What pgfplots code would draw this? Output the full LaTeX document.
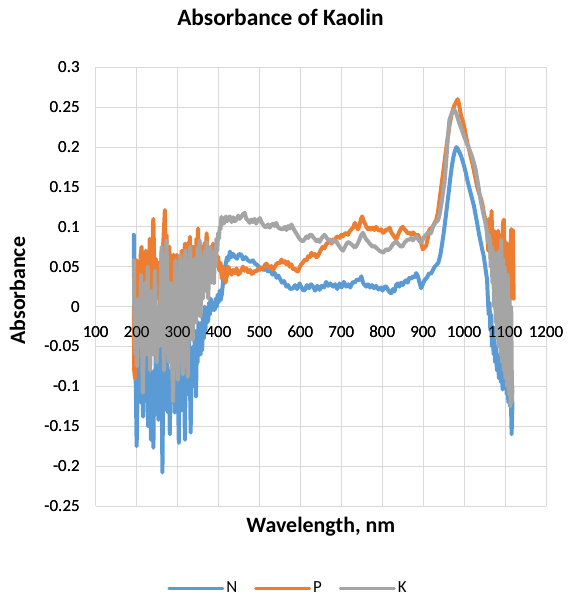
\documentclass[border=0pt]{standalone}
\usepackage{pgfplots}
\pgfplotsset{compat=1.18}
\usepackage{fontspec}
\setmainfont{Carlito}
\definecolor{cN}{HTML}{5B9BD5}
\definecolor{cP}{HTML}{ED7D31}
\definecolor{cK}{HTML}{A5A5A5}
\definecolor{gridgray}{HTML}{D9D9D9}
\pgfplotsset{
  kaolinframe/.style={
    at={(0,0)}, anchor=south west,
    scale only axis, width=450.3bp, height=438.7bp,
    xmin=100, xmax=1200, ymin=-0.25, ymax=0.3,
    axis x line=middle, axis y line=left,
    hide obscured x ticks=false, hide obscured y ticks=false,
    every inner x axis line/.append style={-},
    every outer y axis line/.append style={-},
    xtick={100,200,300,400,500,600,700,800,900,1000,1100,1200},
    xticklabels={100,200,300,400,500,600,700,800,900,1000,1100,1200},
    ytick={-0.25,-0.2,-0.15,-0.1,-0.05,0,0.05,0.1,0.15,0.2,0.25,0.3},
    yticklabels={-0.25,-0.2,-0.15,-0.1,-0.05,0,0.05,0.1,0.15,0.2,0.25,0.3},
    major tick length=0pt,
    ticklabel style={font=\fontsize{17}{20}\selectfont, text=black},
    xticklabel style={anchor=north, yshift=-16bp},
    yticklabel style={anchor=east, xshift=-12.5bp},
    /pgf/number format/assume math mode=true,
  },
}
\begin{document}
\begin{tikzpicture}
\useasboundingbox (-95.7bp,-93bp) rectangle (472.3bp,506bp);
\begin{axis}[
  kaolinframe,
  axis line style={-, draw=gridgray, line width=1bp},
  grid=major, major grid style={draw=gridgray, line width=1bp},
  every axis title/.style={at={(axis description cs:0.4104,1.0948)}, anchor=base, font=\bfseries\fontsize{23.5}{28}\selectfont},
  title={Absorbance of Kaolin},
  every axis x label/.style={at={(axis description cs:0.5,-0.0593)}, anchor=base, font=\bfseries\fontsize{22}{26}\selectfont},
  xlabel={Wavelength, nm},
  every axis y label/.style={at={(axis description cs:-0.157,0.4906)}, anchor=base, rotate=90, font=\bfseries\fontsize{22}{26}\selectfont},
  ylabel={Absorbance},
  legend columns=3,
  legend style={at={(axis description cs:0.427,-0.187)}, anchor=center, draw=none, fill=none,
    font=\fontsize{17}{20}\selectfont,
    /tikz/every even column/.append style={column sep=15bp}},
  legend image code/.code={\draw[#1, line width=3bp] (0bp,0bp) -- (54bp,0bp);},
  every axis plot/.append style={line width=4bp, line join=round, line cap=round},
]
\addplot[cN] coordinates {
(193,0.090) (194,0.020) (196,-0.060) (198,-0.100) (200,-0.175) (202,-0.120) (204,-0.070) (206,-0.100) (208,-0.050) (210,-0.120)
(212,-0.080) (214,-0.110) (216,-0.138) (218,-0.060) (220,-0.090) (222,-0.040) (224,-0.110) (226,-0.080) (228,-0.150) (230,-0.100)
(232,-0.060) (235,-0.167) (237,-0.090) (239,-0.120) (241,-0.177) (243,-0.080) (245,-0.110) (247,-0.050) (249,-0.130) (251,-0.090)
(253,-0.142) (255,-0.070) (257,-0.110) (259,-0.040) (261,-0.100) (263,-0.208) (265,-0.090) (267,-0.130) (269,-0.060) (271,-0.100)
(273,-0.130) (275,-0.070) (277,-0.133) (279,-0.090) (281,-0.160) (283,-0.080) (285,-0.110) (287,-0.060) (289,-0.120) (291,-0.070)
(293,-0.133) (295,-0.080) (297,-0.100) (299,-0.050) (301,-0.110) (303,-0.171) (305,-0.080) (307,-0.100) (309,-0.130) (311,-0.060)
(313,-0.100) (315,-0.070) (318,-0.167) (320,-0.060) (322,-0.100) (324,-0.070) (326,-0.110) (328,-0.040) (330,-0.080) (332,-0.158)
(334,-0.060) (336,-0.090) (338,-0.050) (340,-0.100) (342,-0.030) (345,-0.113) (347,-0.050) (349,-0.070) (351,-0.020) (353,-0.050)
(356,-0.060) (358,-0.020) (360,-0.055) (362,-0.010) (364,-0.040) (366,0.000) (368,-0.030) (370,-0.005) (372,-0.020) (375,-0.017)
(377,0.005) (379,-0.010) (381,0.010) (383,-0.005) (386,0.005) (388,-0.004) (391,-0.004) (393,0.010) (396,0.000) (398,0.015)
(400,0.005) (403,0.020) (405,0.008) (408,0.015) (411,0.030) (413,0.040) (415,0.042) (418,0.055) (421,0.062) (424,0.058)
(428,0.069) (432,0.062) (436,0.066) (440,0.0625) (445,0.060) (450,0.066) (456,0.065) (460,0.059) (466,0.062) (472,0.058)
(478,0.056) (484,0.058) (489,0.054) (495,0.052) (500,0.049) (505,0.048) (510,0.046) (516,0.047) (521,0.044) (527,0.045)
(532,0.040) (537,0.0425) (542,0.036) (546,0.039) (550,0.035) (555,0.030) (560,0.032) (566,0.025) (570,0.027) (575,0.022)
(582,0.023) (587,0.027) (592,0.022) (598,0.029) (603,0.024) (607,0.020) (611,0.021) (616,0.027) (621,0.023) (626,0.028)
(631,0.025) (636,0.020) (641,0.026) (647,0.021) (652,0.026) (658,0.024) (663,0.031) (668,0.026) (673,0.029) (680,0.025)
(685,0.028) (690,0.022) (696,0.029) (701,0.024) (706,0.031) (712,0.025) (717,0.028) (722,0.024) (728,0.031) (733,0.030)
(738,0.034) (744,0.033) (749,0.038) (753,0.030) (757,0.027) (761,0.025) (765,0.028) (770,0.024) (775,0.027) (780,0.023)
(785,0.026) (790,0.022) (793,0.021) (797,0.024) (801,0.020) (806,0.025) (810,0.025) (814,0.021) (818,0.018) (822,0.0167)
(826,0.022) (830,0.019) (834,0.027) (838,0.029) (842,0.025) (846,0.030) (850,0.027) (854,0.031) (858,0.033) (862,0.030)
(866,0.036) (871,0.035) (875,0.038) (879,0.037) (883,0.042) (887,0.038) (891,0.030) (895,0.023) (899,0.028) (903,0.033)
(907,0.035) (911,0.038) (915,0.042) (919,0.041) (923,0.045) (928,0.050) (932,0.052) (937,0.055) (942,0.065) (946,0.078)
(950,0.092) (954,0.108) (958,0.125) (962,0.142) (966,0.160) (970,0.176) (974,0.188) (978,0.196) (981,0.200) (984,0.198)
(987,0.195) (990,0.192) (993,0.188) (996,0.183) (1000,0.176) (1004,0.168) (1008,0.158) (1012,0.150) (1016,0.142) (1020,0.134)
(1024,0.126) (1028,0.115) (1032,0.104) (1036,0.092) (1040,0.082) (1044,0.072) (1048,0.063) (1052,0.048) (1056,0.034) (1058,0.010)
(1060,-0.010) (1062,0.005) (1064,-0.030) (1066,-0.010) (1068,-0.050) (1070,-0.025) (1072,-0.060) (1074,-0.040) (1076,-0.070) (1078,-0.050)
(1080,-0.080) (1082,-0.060) (1085,-0.090) (1087,-0.070) (1090,-0.095) (1092,-0.080) (1094,-0.104) (1096,-0.090) (1098,-0.060) (1100,-0.100)
(1102,-0.080) (1104,-0.110) (1106,-0.090) (1108,-0.120) (1110,-0.100) (1112,-0.125) (1114,-0.110) (1116,-0.160) (1118,-0.120)
};
\addlegendentry{N}
\addplot[cP] coordinates {
(193,0.000) (194,-0.080) (196,-0.090) (198,0.020) (200,0.058) (202,0.010) (204,0.040) (206,-0.020) (208,0.030) (210,0.065)
(212,0.075) (214,0.020) (216,0.045) (218,-0.010) (220,0.030) (222,0.070) (224,0.020) (226,0.050) (228,0.000) (230,0.040)
(232,0.085) (234,0.030) (236,0.060) (238,0.020) (240,0.105) (241,0.110) (243,0.050) (245,0.020) (247,0.060) (249,0.010)
(251,0.040) (253,0.055) (255,0.050) (257,0.000) (259,0.040) (261,0.070) (263,0.030) (265,0.080) (267,0.100) (269,0.121)
(271,0.060) (273,0.090) (275,0.030) (277,0.070) (280,0.075) (282,0.020) (284,0.050) (286,0.000) (288,0.040) (290,0.065)
(292,0.020) (295,0.050) (298,0.065) (300,0.030) (302,0.010) (304,0.050) (306,0.060) (308,0.020) (310,0.070) (312,0.040)
(314,0.000) (316,0.060) (318,0.079) (320,0.040) (322,0.060) (324,0.020) (326,0.080) (328,0.050) (330,0.0875) (332,0.040)
(334,0.070) (336,0.020) (338,0.075) (340,0.050) (342,0.070) (344,0.030) (346,0.085) (348,0.060) (350,0.098) (352,0.050)
(354,0.080) (356,0.060) (358,0.075) (360,0.045) (362,0.075) (364,0.055) (366,0.080) (368,0.060) (371,0.092) (373,0.065)
(375,0.075) (377,0.050) (380,0.070) (383,0.055) (387,0.079) (390,0.060) (393,0.070) (396,0.055) (399,0.0625) (402,0.045)
(405,0.055) (408,0.035) (411,0.050) (414,0.040) (417,0.030) (420,0.0375) (424,0.050) (428,0.044) (432,0.040) (436,0.046)
(440,0.042) (444,0.048) (448,0.040) (452,0.042) (456,0.046) (460,0.050) (464,0.045) (468,0.048) (472,0.043) (477,0.046)
(481,0.041) (485,0.042) (489,0.045) (493,0.044) (497,0.048) (501,0.046) (505,0.049) (509,0.047) (513,0.052) (517,0.054)
(521,0.050) (525,0.048) (529,0.051) (533,0.046) (537,0.049) (541,0.053) (545,0.055) (549,0.054) (554,0.059) (558,0.055)
(562,0.057) (566,0.053) (570,0.056) (574,0.050) (578,0.053) (582,0.047) (586,0.048) (590,0.045) (594,0.044) (598,0.049)
(602,0.053) (606,0.055) (611,0.059) (615,0.058) (619,0.063) (623,0.062) (627,0.0675) (631,0.064) (635,0.066) (639,0.062)
(643,0.0633) (647,0.068) (651,0.072) (655,0.075) (659,0.073) (663,0.078) (667,0.080) (672,0.082) (676,0.079) (680,0.084)
(684,0.083) (688,0.087) (692,0.088) (696,0.086) (700,0.090) (704,0.088) (708,0.091) (712,0.0925) (716,0.090) (720,0.094)
(725,0.097) (729,0.099) (733,0.105) (737,0.100) (741,0.0967) (745,0.103) (748,0.110) (751,0.113) (754,0.108) (758,0.104)
(761,0.100) (765,0.097) (769,0.099) (773,0.0967) (777,0.099) (781,0.096) (785,0.100) (789,0.097) (793,0.095) (797,0.097)
(802,0.0925) (806,0.094) (810,0.097) (814,0.096) (818,0.099) (822,0.093) (826,0.090) (830,0.087) (834,0.084) (838,0.089)
(842,0.094) (846,0.098) (850,0.100) (854,0.097) (858,0.095) (862,0.092) (867,0.0925) (871,0.090) (875,0.093) (879,0.091)
(883,0.088) (887,0.090) (891,0.086) (895,0.080) (899,0.0717) (903,0.074) (907,0.076) (911,0.085) (915,0.0967) (919,0.098)
(923,0.100) (927,0.104) (932,0.109) (936,0.118) (940,0.134) (944,0.150) (948,0.165) (952,0.181) (956,0.197) (960,0.212)
(964,0.226) (968,0.238) (972,0.246) (976,0.252) (980,0.256) (984,0.260) (987,0.255) (990,0.246) (993,0.238) (996,0.234)
(1000,0.226) (1004,0.215) (1008,0.205) (1012,0.197) (1016,0.188) (1020,0.180) (1024,0.170) (1028,0.160) (1032,0.150) (1036,0.143)
(1040,0.137) (1044,0.130) (1048,0.118) (1052,0.108) (1056,0.100) (1059,0.070) (1061,0.110) (1063,0.085) (1065,0.060) (1067,0.120)
(1069,0.070) (1071,0.050) (1073,0.095) (1075,0.084) (1077,0.040) (1079,0.080) (1081,0.055) (1083,0.095) (1085,0.030) (1087,0.090)
(1089,0.050) (1091,0.070) (1093,0.020) (1095,0.105) (1097,0.109) (1099,0.060) (1101,0.020) (1103,0.080) (1105,0.040) (1107,0.010)
(1109,0.060) (1111,0.008) (1113,0.070) (1115,0.097) (1117,0.030) (1119,0.096) (1121,0.010)
};
\addlegendentry{P}
\addplot[cK] coordinates {
(193,0.058) (195,-0.020) (197,-0.060) (199,0.000) (201,-0.075) (203,-0.030) (205,0.010) (207,-0.050) (209,-0.020) (211,0.040)
(213,-0.040) (215,-0.108) (217,-0.060) (219,-0.010) (221,0.030) (223,-0.020) (225,-0.060) (227,0.050) (229,0.000) (231,-0.040)
(233,-0.080) (235,-0.030) (237,0.020) (239,-0.010) (241,-0.060) (243,0.010) (245,0.045) (247,-0.020) (249,-0.070) (251,-0.040)
(253,0.000) (255,-0.050) (257,-0.020) (259,0.030) (261,0.075) (263,0.010) (265,-0.040) (267,-0.080) (269,-0.020) (271,0.040)
(273,0.083) (275,0.020) (277,-0.030) (279,-0.070) (281,-0.020) (283,0.030) (285,-0.010) (287,-0.080) (289,-0.119) (291,-0.040)
(293,0.020) (295,0.058) (297,0.000) (299,-0.050) (301,-0.092) (303,-0.030) (305,0.030) (307,0.065) (309,0.010) (311,-0.040)
(313,-0.085) (315,-0.020) (317,0.040) (319,0.070) (321,0.000) (323,-0.060) (325,-0.088) (327,-0.010) (329,0.050) (331,0.075)
(333,0.020) (335,-0.030) (337,-0.042) (339,0.020) (341,0.060) (343,0.010) (345,-0.020) (347,0.050) (349,0.075) (351,0.030)
(354,0.083) (356,-0.0125) (358,0.030) (360,0.060) (362,0.010) (364,0.045) (366,0.070) (368,0.020) (371,0.081) (373,0.040)
(375,0.010) (377,0.050) (380,0.075) (383,0.030) (386,0.060) (389,0.029) (391,0.070) (393,0.050) (395,0.085) (397,0.070)
(399,0.092) (401,0.085) (403,0.100) (405,0.097) (407,0.1125) (409,0.105) (411,0.110) (413,0.104) (415,0.109) (418,0.113)
(421,0.107) (424,0.111) (428,0.113) (432,0.106) (436,0.112) (440,0.107) (444,0.109) (448,0.114) (452,0.110) (456,0.113)
(460,0.116) (464,0.1175) (468,0.110) (472,0.108) (476,0.105) (480,0.109) (484,0.106) (488,0.110) (492,0.104) (496,0.108)
(501,0.111) (505,0.106) (509,0.103) (513,0.100) (517,0.100) (521,0.103) (525,0.099) (529,0.102) (533,0.104) (537,0.101)
(541,0.105) (545,0.100) (549,0.098) (554,0.097) (558,0.097) (562,0.100) (566,0.096) (570,0.101) (574,0.098) (578,0.103)
(582,0.099) (586,0.095) (590,0.092) (594,0.0883) (598,0.085) (602,0.083) (607,0.082) (611,0.085) (615,0.088) (619,0.086)
(623,0.090) (627,0.090) (631,0.087) (635,0.085) (639,0.082) (643,0.084) (647,0.081) (651,0.085) (655,0.088) (659,0.090)
(663,0.087) (667,0.084) (672,0.084) (676,0.080) (680,0.083) (684,0.081) (688,0.082) (692,0.078) (696,0.075) (700,0.072)
(704,0.070) (708,0.074) (712,0.078) (716,0.081) (720,0.080) (725,0.078) (729,0.076) (733,0.074) (737,0.076) (741,0.080)
(745,0.085) (749,0.090) (753,0.0925) (757,0.088) (761,0.084) (765,0.082) (769,0.079) (773,0.077) (777,0.075) (781,0.076)
(785,0.074) (789,0.072) (793,0.070) (797,0.069) (802,0.0675) (806,0.070) (810,0.072) (814,0.071) (818,0.072) (822,0.075)
(826,0.078) (830,0.080) (834,0.082) (838,0.079) (842,0.077) (846,0.075) (850,0.076) (854,0.080) (858,0.082) (862,0.084)
(867,0.084) (871,0.086) (875,0.083) (879,0.086) (883,0.088) (887,0.085) (891,0.082) (895,0.080) (899,0.084) (903,0.088)
(907,0.090) (911,0.0925) (915,0.093) (919,0.092) (924,0.100) (928,0.104) (932,0.106) (937,0.109) (941,0.118) (945,0.130)
(949,0.145) (952,0.155) (956,0.180) (960,0.210) (964,0.234) (968,0.240) (972,0.244) (976,0.247) (980,0.243) (984,0.237)
(988,0.230) (992,0.225) (996,0.219) (1000,0.213) (1004,0.208) (1008,0.203) (1012,0.198) (1016,0.193) (1020,0.187) (1024,0.180)
(1028,0.172) (1032,0.160) (1036,0.147) (1040,0.134) (1044,0.124) (1048,0.114) (1052,0.105) (1055,0.095) (1058,0.080) (1060,0.090)
(1063,0.084) (1065,0.050) (1067,0.075) (1069,0.030) (1071,0.070) (1073,0.000) (1075,0.065) (1077,-0.020) (1079,0.067) (1081,-0.040)
(1083,0.050) (1085,-0.050) (1087,0.070) (1089,-0.060) (1091,0.084) (1093,-0.070) (1095,0.060) (1097,-0.080) (1099,0.050) (1101,-0.090)
(1103,0.030) (1105,-0.100) (1107,0.040) (1109,-0.110) (1111,0.009) (1113,-0.125) (1115,0.000) (1117,-0.120) (1118,-0.100)
};
\addlegendentry{K}
\end{axis}
\begin{axis}[
  kaolinframe,
  axis line style={draw=none},
]
\end{axis}
\end{tikzpicture}
\end{document}
